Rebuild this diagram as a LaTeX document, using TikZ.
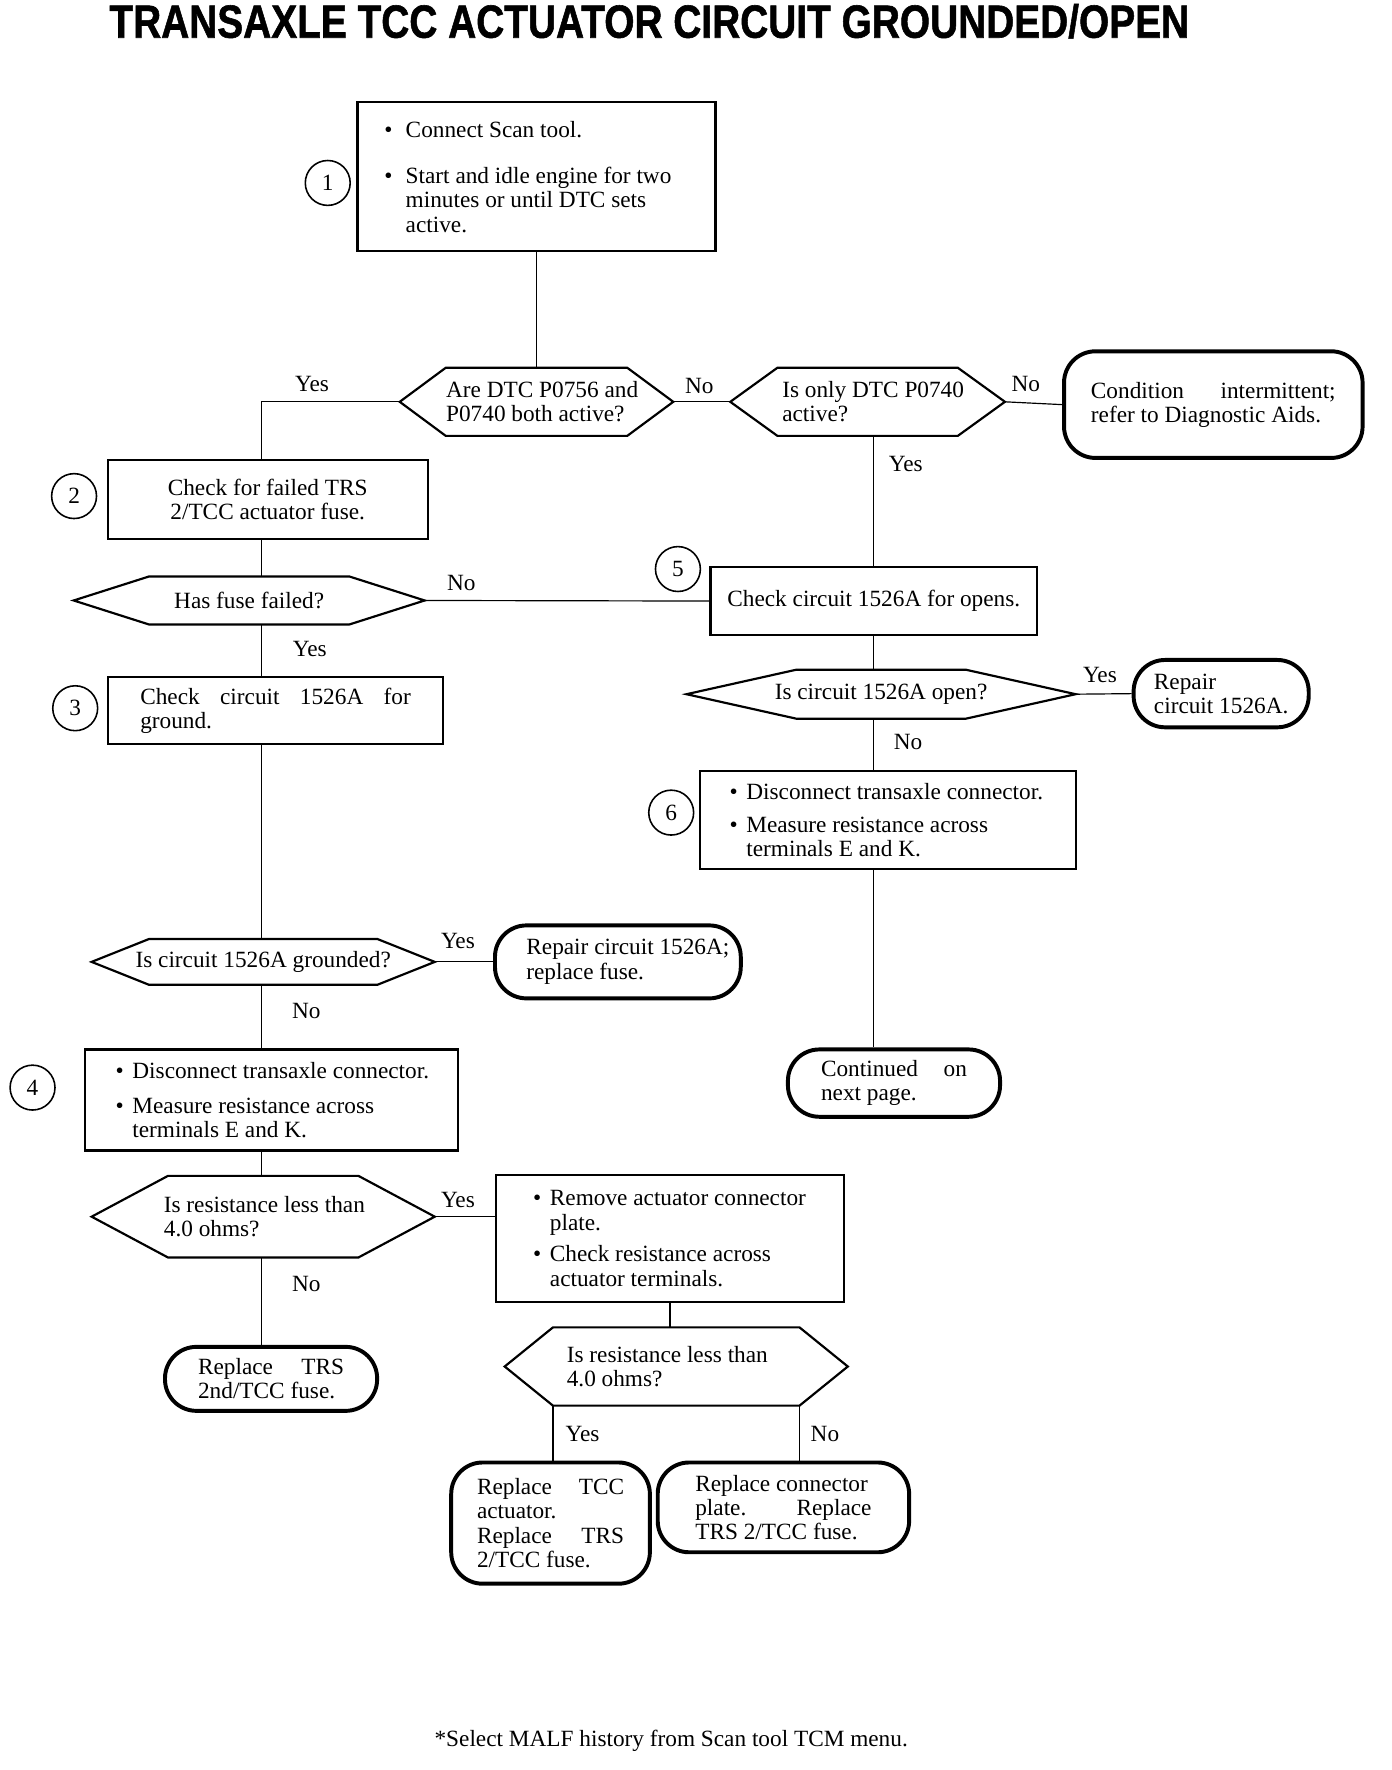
\documentclass[tikz,border=0pt]{standalone}
\usepackage{fontspec}
\setmainfont{Liberation Serif}
\newfontfamily\titlefont{Liberation Sans}[BoldFeatures={FakeBold=1.3}]
\usetikzlibrary{calc}

\newlength\boxw
\newcommand\lline[1]{\makebox[\boxw][l]{#1}}
\newcommand\jline[1]{\makebox[\boxw][s]{#1}}
\newcommand\bul[1][3mm]{\makebox[#1][l]{\textbullet}}
\newcommand\bulind[1][3mm]{\hspace*{#1}}
% hexagon round a decision node, #2 = depth of the points
\newcommand\hexbox[2]{%
	\draw[hexline] (#1.west) -- ([xshift=#2]#1.north west) coordinate (#1-nw)
		-- ([xshift=-#2]#1.north east) coordinate (#1-ne) -- (#1.east)
		-- ([xshift=-#2]#1.south east) coordinate (#1-se)
		-- ([xshift=#2]#1.south west) coordinate (#1-sw) -- cycle;}

\tikzset{
	stepbox/.style={draw, line width=1.1pt, inner sep=0pt, align=left},
	ends/.style={draw, line width=2pt, rounded corners=5.6mm, inner sep=0pt, align=left},
	ask/.style={inner sep=0pt, align=left},
	tw/.style={execute at begin node={\setlength{\boxw}{#1}}},
	hexline/.style={line width=1.1pt},
	num/.style={draw, circle, line width=0.8pt, minimum size=8mm, inner sep=0pt},
	lbl/.style={inner sep=1pt},
	wire/.style={line width=0.6pt}
}

\begin{document}
\begin{tikzpicture}[x=0.2mm, y=-0.2mm, font=\fontsize{11.8}{12.3}\selectfont]
	\useasboundingbox (0,0) rectangle (1240,1577);

	\node (title) at (578.5,19) {\titlefont\bfseries\fontsize{22.9}{24}\selectfont\scalebox{0.86}[1.03]{TRANSAXLE TCC ACTUATOR CIRCUIT GROUNDED/OPEN}};

	% spines of the two columns
	\coordinate (spine) at (233,0);
	\coordinate (rspine) at (778,0);

	% left column
	\node[stepbox, minimum width=63.8mm, minimum height=26.6mm, tw=54.2mm] (s1) at (478,157.5)
		{\lline{\bul[3.8mm]Connect Scan tool.}\\[3.9mm]
		 \bul[3.8mm]Start and idle engine for two\\ \bulind[3.8mm]minutes or until DTC sets\\ \bulind[3.8mm]active.};
	\node[ask, minimum width=48.6mm, minimum height=12mm, tw=32.2mm] (d1) at (478,358)
		{\lline{Are DTC P0756 and}\\P0740 both active?};
	\node[stepbox, minimum width=57mm, minimum height=14mm, align=center] (s2) at (238.5,445)
		{Check for failed TRS\\2/TCC actuator fuse.};
	\node[ask, minimum width=62.4mm, minimum height=8.4mm, align=center] (d3) at (222,535) {Has fuse failed?};
	\node[stepbox, minimum width=59.8mm, minimum height=12mm, tw=48.2mm] (s3) at (245.5,633)
		{\jline{Check circuit 1526A for}\\ground.};
	\node[ask, minimum width=61mm, minimum height=8mm, align=center] (d5) at (234.5,857) {Is circuit 1526A grounded?};
	\node[ends, minimum width=43.8mm, minimum height=13mm, tw=32.6mm] (t4) at (550.5,857)
		{\lline{Repair circuit 1526A;}\\replace fuse.};
	\node[stepbox, minimum width=66.4mm, minimum height=18mm, tw=55.6mm] (s4) at (242,980)
		{\lline{\bul Disconnect transaxle connector.}\\[1.9mm]
		 \bul Measure resistance across\\ \bulind terminals E and K.};
	\node[ask, minimum width=61mm, minimum height=14.4mm, tw=35.4mm] (d6) at (234.5,1084)
		{\lline{Is resistance less than}\\4.0 ohms?};
	\node[stepbox, minimum width=62mm, minimum height=22.6mm, tw=48.8mm] (s7) at (597,1103.5)
		{\lline{\bul Remove actuator connector}\\ \bulind plate.\\[1.3mm]
		 \bul Check resistance across\\ \bulind actuator terminals.};
	\node[ends, minimum width=37.8mm, minimum height=11.4mm, tw=26mm] (t5) at (241.5,1228.5)
		{\jline{Replace TRS}\\2nd/TCC fuse.};
	\node[ask, minimum width=61mm, minimum height=13.8mm, tw=39mm] (d7) at (602.5,1217.5)
		{\lline{Is resistance less than}\\4.0 ohms?};
	\node[ends, minimum width=35.4mm, minimum height=21.6mm, tw=26.2mm] (t6) at (490.5,1357)
		{\jline{Replace TCC}\\actuator.\\\jline{Replace TRS}\\2/TCC fuse.};
	\node[ends, minimum width=44.8mm, minimum height=16mm, tw=31.4mm] (t7) at (698,1343)
		{\lline{Replace connector}\\\jline{plate. Replace}\\TRS 2/TCC fuse.};

	% right column
	\node[ask, minimum width=48.8mm, minimum height=12mm, tw=30.4mm] (d2) at (773,358)
		{\lline{Is only DTC P0740}\\active?};
	\node[ends, minimum width=53.2mm, minimum height=19mm, tw=43.6mm] (t1) at (1081,360.5)
		{\jline{Condition intermittent;}\\refer to Diagnostic Aids.};
	\node[stepbox, minimum width=58.2mm, minimum height=12.2mm, align=center] (s5) at (778.5,535.5)
		{Check circuit 1526A for opens.};
	\node[ask, minimum width=69.2mm, minimum height=8.6mm, align=center] (d4) at (785,618.5) {Is circuit 1526A open?};
	\node[ends, minimum width=31.2mm, minimum height=12mm, tw=22.4mm] (t2) at (1088,618)
		{\lline{Repair}\\circuit 1526A.};
	\node[stepbox, minimum width=67mm, minimum height=17.4mm, tw=56.6mm] (s6) at (791.5,730.5)
		{\lline{\bul Disconnect transaxle connector.}\\[1.5mm]
		 \bul Measure resistance across\\ \bulind terminals E and K.};
	\node[ends, minimum width=37.8mm, minimum height=12mm, tw=26mm] (t3) at (796.5,965)
		{\jline{Continued on}\\next page.};

	\hexbox{d1}{8.2mm}
	\hexbox{d2}{8.4mm}
	\hexbox{d3}{13.4mm}
	\hexbox{d4}{19.6mm}
	\hexbox{d5}{10.2mm}
	\hexbox{d6}{13.6mm}
	\hexbox{d7}{8.6mm}

	% step numbers
	\node[num] (c1) at (292,163) {1};
	\node[num] (c2) at (66,442) {2};
	\node[num] (c3) at (67,631) {3};
	\node[num] (c4) at (29,969) {4};
	\node[num] (c5) at (604,507) {5};
	\node[num] (c6) at (598,724) {6};

	% connectors
	\draw[wire] (s1.south) -- (d1.north);
	\draw[wire] (d1.west) -| (spine |- s2.north);
	\draw[wire] (d1.east) -- (d2.west);
	\draw[wire] (d2.east) -- (t1.west);
	\draw[wire] (d2.south -| rspine) -- (s5.north -| rspine);
	\draw[wire] (s2.south -| spine) -- (d3.north -| spine);
	\draw[wire] (d3.east) -- (s5.west);
	\draw[wire] (d3.south -| spine) -- (s3.north -| spine);
	\draw[wire] (s3.south -| spine) -- (d5.north -| spine);
	\draw[wire] (d5.east) -- (t4.west);
	\draw[wire] (d5.south -| spine) -- (s4.north -| spine);
	\draw[wire] (s4.south -| spine) -- (d6.north -| spine);
	\draw[wire] (d6.east) -- (d6.east -| s7.west);
	\draw[wire] (d6.south -| spine) -- (t5.north -| spine);
	\draw[wire] (s7.south) -- (s7.south |- d7.north);
	\draw[wire] (d7-sw) -- (d7-sw |- t6.north);
	\draw[wire] (d7-se) -- (d7-se |- t7.north);
	\draw[wire] (s5.south -| rspine) -- (d4.north -| rspine);
	\draw[wire] (d4.east) -- (t2.west);
	\draw[wire] (d4.south -| rspine) -- (s6.north -| rspine);
	\draw[wire] (s6.south -| rspine) -- (t3.north -| rspine);

	% branch labels
	\node[lbl] (y1) at (278,342) {Yes};
	\node[lbl] (n1) at (623,344) {No};
	\node[lbl] (n2) at (914,342) {No};
	\node[lbl] (y2) at (807,413) {Yes};
	\node[lbl] (n3) at (411,519) {No};
	\node[lbl] (y3) at (276,578) {Yes};
	\node[lbl] (y4) at (980,601) {Yes};
	\node[lbl] (n4) at (809,661) {No};
	\node[lbl] (y5) at (408,838) {Yes};
	\node[lbl] (n5) at (273,901) {No};
	\node[lbl] (y6) at (408,1069) {Yes};
	\node[lbl] (n6) at (273,1144) {No};
	\node[lbl] (y7) at (519,1278) {Yes};
	\node[lbl] (n7) at (735,1278) {No};

	\node (note) at (598,1551) {*Select MALF history from Scan tool TCM menu.};
\end{tikzpicture}
\end{document}
